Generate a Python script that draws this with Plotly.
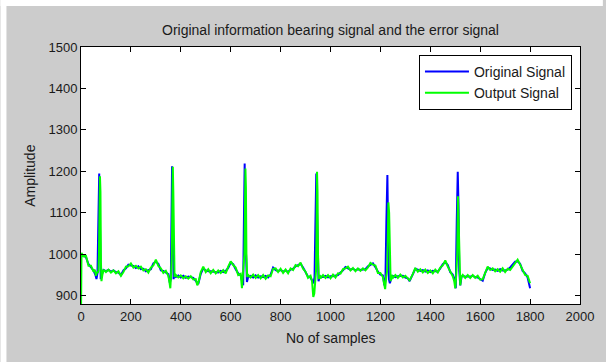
import plotly.graph_objects as go

title_text = "Original information bearing signal and the error signal"
x_title = "No of samples"
y_title = "Amplitude"
series_names = ["Original Signal", "Output Signal"]
x_ticks = [0, 200, 400, 600, 800, 1000, 1200, 1400, 1600, 1800, 2000]
y_ticks = [900, 1000, 1100, 1200, 1300, 1400, 1500]

orig_x = [0, 10, 20, 30, 40, 50, 58, 62, 66, 69, 71, 73, 75, 77, 79, 83, 90, 100, 110, 120, 130, 140, 150, 160,
          170, 180, 190, 200, 210, 220, 230, 240, 250, 260, 270, 280, 290, 300, 310, 320, 330, 340, 350, 356, 360,
          363, 365, 367, 369, 371, 374, 380, 390, 400, 410, 420, 430, 440, 450, 460, 470, 480,
          490, 500, 510, 520, 530, 540, 550, 560, 570, 580, 590, 600, 610, 620, 630, 640, 646, 650, 653, 656, 659,
          662, 665, 670, 680, 690, 700, 710, 720, 730, 740, 750, 760,
          770, 780, 790, 800, 810, 820, 830, 840, 850, 860, 870, 880, 890, 900, 910, 920, 927, 932, 936, 940, 943,
          946, 949, 952, 956, 960, 970, 980, 990, 1000, 1010, 1020, 1030, 1040,
          1050, 1060, 1070, 1080, 1090, 1100, 1110, 1120, 1130, 1140, 1150, 1160, 1170, 1180, 1190, 1200, 1210,
          1216, 1220, 1224, 1228, 1231, 1234, 1238, 1245, 1250, 1260, 1270, 1280, 1290, 1300, 1310, 1317,
          1330, 1340, 1350, 1360, 1370, 1380, 1390, 1400, 1410, 1420, 1430, 1440, 1450, 1460, 1470, 1480, 1490,
          1497, 1502, 1506, 1510, 1513, 1516, 1520, 1525, 1530, 1540, 1550, 1560, 1570, 1580, 1590, 1600, 1610,
          1620, 1630, 1640, 1650, 1660, 1670, 1680, 1690, 1700, 1710, 1720, 1730, 1740, 1750, 1760, 1770, 1780,
          1790, 1800]
orig_y = [1000, 997, 993, 976, 969, 961, 950, 940, 955, 1050, 1150, 1195, 1120, 990, 940, 950, 962, 959, 962, 958, 961, 957, 956, 950,
          961, 966, 975, 973, 972, 967, 971, 964, 965, 959, 961, 964, 978, 982, 977, 961, 960, 955, 952, 931, 940,
          1100, 1212, 1100, 960, 940, 948, 945, 949, 944, 948, 943, 946, 944, 943, 936, 928, 953,
          966, 961, 959, 959, 958, 957, 956, 960, 957, 960, 967, 980, 976, 964, 954, 949, 935, 925, 1080, 1219, 1050,
          940, 933, 945, 948, 944, 949, 944, 947, 945, 948, 944, 951,
          968, 962, 960, 962, 958, 961, 957, 963, 965, 971, 974, 977, 968, 955, 946, 944, 935, 930, 945, 1090, 1195,
          1100, 960, 935, 944, 946, 945, 948, 944, 947, 947, 948, 950, 956,
          961, 969, 966, 963, 965, 961, 964, 962, 963, 964, 971, 975, 978, 969, 958, 951, 949,
          925, 935, 1080, 1191, 1050, 940, 930, 946, 948, 945, 947, 947, 948, 944, 942, 935,
          950, 965, 963, 960, 962, 958, 961, 957, 960, 959, 958, 966, 976, 981, 974, 957, 951,
          940, 918, 1080, 1199, 1120, 960, 925, 945, 948, 946, 947, 946, 948, 945, 944, 941, 936,
          955, 967, 966, 962, 963, 960, 964, 961, 961, 963, 968, 976, 982, 983, 977, 960, 954,
          944, 918]

out_x = [0, 2, 10, 20, 30, 40, 50, 55, 60, 64, 67, 70, 72, 74, 76, 78, 80, 82, 85, 90, 100, 110, 120, 130, 140, 150, 160,
         170, 180, 190, 200, 210, 220, 230, 240, 250, 260, 270, 280, 290, 300, 310, 320, 330, 340, 350, 354, 358, 361,
         364, 366, 368, 370, 372, 375, 380, 390, 400, 410, 420, 430, 440, 450, 460, 466, 472, 480,
         490, 500, 510, 520, 530, 540, 550, 560, 570, 580, 590, 600, 610, 620, 630, 640, 645, 648, 652, 655, 657,
         659, 661, 663, 666, 670, 680, 690, 700, 710, 720, 730, 740, 750, 760,
         770, 780, 790, 800, 810, 820, 830, 840, 850, 860, 870, 880, 890, 900, 910, 920, 926, 931, 935, 939, 942,
         944, 946, 948, 950, 953, 957, 960, 970, 980, 990, 1000, 1010, 1020, 1030, 1040,
         1050, 1060, 1070, 1080, 1090, 1100, 1110, 1120, 1130, 1140, 1150, 1160, 1170, 1180, 1190, 1200, 1210,
         1215, 1219, 1223, 1227, 1230, 1232, 1235, 1238, 1241, 1245, 1250, 1260, 1270, 1280, 1290, 1300, 1310, 1317,
         1330, 1340, 1350, 1360, 1370, 1380, 1390, 1400, 1410, 1420, 1430, 1440, 1450, 1460, 1470, 1480, 1490,
         1496, 1500, 1504, 1508, 1511, 1514, 1517, 1520, 1524, 1530, 1540, 1550, 1560, 1570, 1580, 1590, 1600,
         1610, 1620, 1630, 1640, 1650, 1660, 1670, 1680, 1690, 1700, 1710, 1720, 1730, 1740, 1750, 1760, 1770,
         1780, 1790, 1800]
out_y = [850, 1003, 995, 996, 972, 972, 958, 963, 948, 958, 955, 960, 1000, 1100, 1188, 1150, 980, 935, 948, 963, 957, 963, 956, 961, 954, 959, 948,
         957, 970, 971, 978, 968, 972, 966, 970, 961, 964, 956, 968, 973, 987, 972, 966, 955, 960, 948, 935, 918, 950,
         1000, 1120, 1211, 1150, 960, 945, 950, 944, 949, 942, 947, 941, 947, 939, 940, 925, 935, 957,
         970, 957, 964, 954, 962, 954, 961, 955, 962, 954, 970, 983, 974, 968, 950, 953, 918, 940, 960, 1000, 1100,
         1207, 1160, 1000, 945, 950, 944, 951, 943, 950, 942, 950, 941, 949, 947,
         965, 966, 957, 965, 955, 963, 954, 966, 962, 974, 971, 980, 965, 958, 943, 948, 935, 897, 905, 945, 960,
         1050, 1199, 1150, 1000, 940, 950, 942, 950, 943, 950, 942, 951, 944, 954, 953,
         964, 966, 970, 961, 967, 959, 966, 960, 966, 961, 968, 979, 975, 973, 955, 955, 945,
         930, 916, 945, 960, 1050, 1125, 1100, 960, 935, 950, 943, 950, 943, 951, 944, 948, 940, 937,
         952, 967, 958, 964, 956, 963, 955, 961, 954, 963, 956, 968, 973, 985, 970, 960, 947,
         935, 918, 950, 1000, 1140, 1090, 1000, 925, 945, 950, 943, 950, 943, 950, 943, 948, 939,
         940, 953, 970, 962, 966, 959, 964, 958, 966, 957, 965, 962, 971, 978, 987, 975, 962,
         950, 948, 930]

FONT = "Liberation Sans, Arial, sans-serif"
W, H = 606, 362
L, R, T, B = 81, 23, 47, 58
pw, ph = W - L - R, H - T - B

def px(xp):
    return (xp - L) / pw

def py(yp):
    return (H - B - yp) / ph

fig = go.Figure()
fig.add_trace(go.Scatter(x=orig_x, y=orig_y, mode="lines", name=series_names[0], legendgroup="a",
                         line=dict(color="#0000ff", width=2)))
fig.add_trace(go.Scatter(x=out_x, y=out_y, mode="lines", name=series_names[1], legendgroup="b",
                         line=dict(color="#00ff00", width=2)))

axis_common = dict(showline=True, linecolor="black", linewidth=1, mirror="ticks",
                   ticks="inside", ticklen=5, tickcolor="black", showgrid=False,
                   zeroline=False, tickfont=dict(family=FONT, size=13, color="#1a1a1a"))

fig.update_xaxes(range=[0, 2000], tickvals=x_ticks, **axis_common)
fig.update_yaxes(range=[880, 1500], tickvals=y_ticks, **axis_common)

fig.update_layout(
    width=W, height=H, autosize=False,
    margin=dict(l=L, r=R, t=T, b=B, pad=0),
    paper_bgcolor="#cccccc", plot_bgcolor="white",
    font=dict(family=FONT, size=13, color="#1a1a1a"),
    title=dict(text=title_text, x=0.5, xref="paper", y=1 - 30 / H, yref="container",
               xanchor="center", yanchor="middle", font=dict(family=FONT, size=14, color="#1a1a1a")),
    legend=dict(x=px(421), y=py(55), xanchor="left", yanchor="top", bgcolor="white",
                bordercolor="black", borderwidth=1, itemwidth=44, tracegroupgap=0,
                traceorder="grouped",
                font=dict(family=FONT, size=14, color="#1a1a1a")),
    showlegend=True,
    annotations=[
        dict(text=x_title, x=0.5, y=py(338), xref="paper", yref="paper", showarrow=False,
             xanchor="center", yanchor="middle", font=dict(family=FONT, size=14, color="#1a1a1a")),
        dict(text=y_title, x=px(29), y=0.5, xref="paper", yref="paper", showarrow=False,
             textangle=-90, xanchor="center", yanchor="middle", font=dict(family=FONT, size=14, color="#1a1a1a")),
    ],
    shapes=[
        dict(type="rect", xref="paper", yref="paper", x0=px(0), x1=px(6), y0=py(W), y1=py(0),
             fillcolor="white", line=dict(width=0), layer="above"),
        dict(type="rect", xref="paper", yref="paper", x0=px(0), x1=px(W), y0=py(6), y1=py(0),
             fillcolor="white", line=dict(width=0), layer="above"),
    ],
)

fig.write_html("out.html")
